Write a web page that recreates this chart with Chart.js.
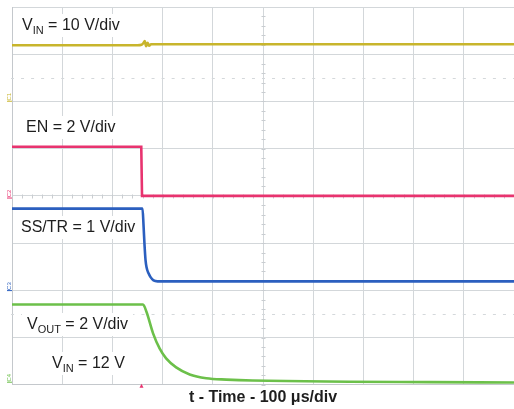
<!DOCTYPE html>
<html>
<head>
<meta charset="utf-8">
<script src="https://cdn.jsdelivr.net/npm/chart.js@4/dist/chart.umd.min.js"></script>
<style>
  html, body { margin: 0; padding: 0; background: #ffffff; }
  #wrap { width: 514px; height: 409px; position: relative; }
</style>
</head>
<body>
<div id="wrap"><canvas id="c" width="514" height="409"></canvas></div>
<script>
// ---- Data (time in µs from left edge of screen, amplitude in screen divisions from bottom) ----
const vinT  = [0, 250, 258, 262, 264.5, 267, 270, 273, 277, 1000];
const vinY  = [7.19, 7.19, 7.2, 7.24, 7.28, 7.17, 7.24, 7.18, 7.21, 7.21];

const enT   = [0, 257.5, 259, 1000];
const enY   = [5.04, 5.04, 4.0, 4.0];

const ssT   = [0, 260, 262, 264, 266, 268, 272, 276, 282, 290, 1000];
const ssY   = [3.73, 3.73, 3.38, 2.96, 2.64, 2.49, 2.36, 2.28, 2.21, 2.19, 2.19];

const voutT = [0, 261, 268, 281, 294, 307, 327, 354, 387, 427, 479, 1000];
const voutY = [1.70, 1.70, 1.54, 1.09, 0.77, 0.56, 0.37, 0.22, 0.14, 0.11, 0.09, 0.05];

const seriesNames = ['VIN', 'EN', 'SS/TR', 'VOUT'];
const channelTags = ['C1', 'C2', 'C3', 'C4'];
const channelLevels = [6.1, 4.05, 2.09, 0.15];
const triggerTime = 258;
const xTitle = 't - Time - 100 \u03bcs/div';

const colors = ['#c8b52c', '#e8336f', '#2b5fbf', '#6cc04a'];

function pts(t, y) { return t.map((v, i) => ({ x: v, y: y[i] })); }

const labelPlugin = {
  id: 'scopeDecor',
  beforeDatasetsDraw(chart) {
    const { ctx, chartArea: a, scales: { x, y } } = chart;
    ctx.save();
    ctx.strokeStyle = '#c9cdd1';
    ctx.lineWidth = 1;
    // minor ticks on centre vertical line
    const cx = Math.round(x.getPixelForValue(500)) + 0.5;
    for (let v = 0; v <= 8; v += 0.2) {
      const py = Math.round(y.getPixelForValue(v)) + 0.5;
      ctx.beginPath(); ctx.moveTo(cx - 2, py); ctx.lineTo(cx + 2, py); ctx.stroke();
    }
    // minor ticks on centre horizontal line
    const cy = Math.round(y.getPixelForValue(4)) + 0.5;
    for (let t = 0; t <= 1000; t += 20) {
      const px = Math.round(x.getPixelForValue(t)) + 0.5;
      ctx.beginPath(); ctx.moveTo(px, cy - 2); ctx.lineTo(px, cy + 2); ctx.stroke();
    }
    // dotted reference lines
    ctx.strokeStyle = '#d4d8db';
    [6.5, 1.5].forEach(v => {
      const py = Math.round(y.getPixelForValue(v)) + 0.5;
      for (let t = 0; t <= 1000; t += 20) {
        const px = x.getPixelForValue(t);
        ctx.beginPath(); ctx.moveTo(px - 1, py); ctx.lineTo(px + 2, py); ctx.stroke();
      }
    });
    ctx.restore();
  },
  afterDatasetsDraw(chart) {
    const { ctx, chartArea: a, scales: { x, y } } = chart;
    ctx.save();
    const F = '"Liberation Sans", Arial, sans-serif';
    function label(parts, px, base) {
      let w = 0;
      parts.forEach(p => { ctx.font = p.s + 'px ' + F; p.w = ctx.measureText(p.t).width; w += p.w; });
      ctx.fillStyle = '#ffffff';
      ctx.fillRect(px - 5, base - 16, w + 10, 23);
      let cx = px;
      ctx.fillStyle = '#1e1e1e';
      ctx.textBaseline = 'alphabetic';
      parts.forEach(p => {
        ctx.font = p.s + 'px ' + F;
        ctx.fillText(p.t, cx, base + (p.d || 0));
        cx += p.w;
      });
    }
    label([{ t: 'V', s: 16 }, { t: 'IN', s: 11, d: 4 }, { t: ' = 10 V/div', s: 16 }], 22, 30);
    label([{ t: 'EN = 2 V/div', s: 16 }], 26, 132);
    label([{ t: 'SS/TR = 1 V/div', s: 16 }], 21, 232);
    label([{ t: 'V', s: 16 }, { t: 'OUT', s: 11, d: 4 }, { t: ' = 2 V/div', s: 16 }], 27, 329);
    label([{ t: 'V', s: 16 }, { t: 'IN', s: 11, d: 4 }, { t: ' = 12 V', s: 16 }], 52, 368);

    // channel markers
    channelTags.forEach((tag, i) => {
      const py = y.getPixelForValue(channelLevels[i]);
      ctx.fillStyle = colors[i];
      ctx.strokeStyle = colors[i];
      ctx.lineWidth = 1;
      ctx.beginPath(); ctx.moveTo(7, py + 4.5); ctx.lineTo(12, py + 4.5); ctx.stroke();
      ctx.save();
      ctx.translate(11, py);
      ctx.rotate(-Math.PI / 2);
      ctx.font = '6px ' + F;
      ctx.textAlign = 'center';
      ctx.fillText(tag, 0, 0);
      ctx.restore();
    });
    // trigger marker
    const tx = x.getPixelForValue(triggerTime);
    ctx.fillStyle = '#e8336f';
    ctx.beginPath();
    ctx.moveTo(tx - 2, a.bottom + 3);
    ctx.lineTo(tx + 2, a.bottom + 3);
    ctx.lineTo(tx, a.bottom - 1);
    ctx.closePath(); ctx.fill();
    ctx.restore();
  }
};

const mk = (name, t, yv, c, mono) => ({
  label: name,
  data: pts(t, yv),
  borderColor: c,
  backgroundColor: c,
  borderWidth: 2.6,
  pointRadius: 0,
  fill: false,
  cubicInterpolationMode: mono ? 'monotone' : 'default',
  tension: 0
});

new Chart(document.getElementById('c'), {
  type: 'line',
  data: {
    datasets: [
      mk(seriesNames[0], vinT, vinY, colors[0], true),
      mk(seriesNames[1], enT, enY, colors[1], false),
      mk(seriesNames[2], ssT, ssY, colors[2], true),
      mk(seriesNames[3], voutT, voutY, colors[3], true)
    ]
  },
  options: {
    responsive: false,
    animation: false,
    layout: { padding: { left: 12, right: 0, top: 7, bottom: 2 } },
    plugins: { legend: { display: false }, tooltip: { enabled: false } },
    scales: {
      x: {
        type: 'linear', min: 0, max: 1000,
        ticks: { display: false, stepSize: 100 },
        grid: { color: '#d3d7da', drawTicks: false, lineWidth: 1 },
        border: { color: '#c4c8cc' },
        title: {
          display: true, text: xTitle, color: '#1e1e1e',
          font: { family: '"Liberation Sans", Arial, sans-serif', size: 16, weight: 'bold' },
          padding: { top: 3, bottom: 0 }
        }
      },
      y: {
        type: 'linear', min: 0, max: 8,
        ticks: { display: false, stepSize: 1 },
        grid: { color: '#d3d7da', drawTicks: false, lineWidth: 1 },
        border: { color: '#c4c8cc' }
      }
    }
  },
  plugins: [labelPlugin]
});
</script>
</body>
</html>
